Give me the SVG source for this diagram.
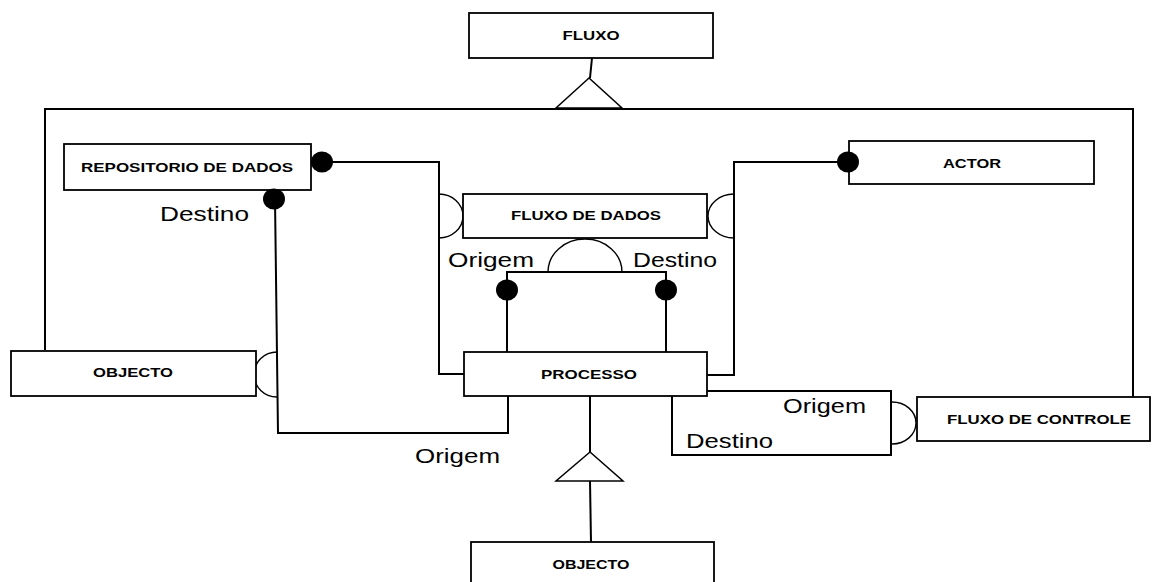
<svg xmlns="http://www.w3.org/2000/svg" width="1156" height="582" viewBox="0 0 1156 582">
  <style>
    .box { fill: #fff; stroke: #000; stroke-width: 1.8; }
    .lbl { font-family: "Liberation Sans", Arial, sans-serif; font-size: 13px; font-weight: bold; text-anchor: middle; fill: #000; }
    .role { font-family: "Liberation Sans", Arial, sans-serif; font-size: 21px; fill: #000; }
    .wire { fill: none; stroke: #000; stroke-width: 2; }
    .arc { fill: none; stroke: #000; stroke-width: 1.4; }
    .dot { fill: #000; }
    .tri { fill: #fff; stroke: #000; stroke-width: 1.5; }
  </style>

  <rect width="1156" height="582" fill="#fff"/>

  <!-- connectors -->
  <g id="connectors">
    <!-- FLUXO generalization -->
    <line class="wire" x1="592" y1="58" x2="590" y2="78"/>
    <polyline class="wire" points="45,350 45,109 1133,109 1133,397"/>
    <polygon class="tri" points="589,78 556,108 622,108"/>

    <!-- REPOSITORIO DE DADOS -> PROCESSO (via FLUXO DE DADOS) -->
    <polyline class="wire" points="322,162 439,162 439,374 464,374"/>
    <path class="arc" d="M439,194 A24,22 0 0 1 439,238"/>

    <!-- ACTOR -> PROCESSO (via FLUXO DE DADOS) -->
    <polyline class="wire" points="848,162 734,162 734,375 707,375"/>
    <path class="arc" d="M734,194 A26,22 0 0 0 734,238"/>

    <!-- REPOSITORIO DE DADOS -> PROCESSO (via OBJECTO) -->
    <polyline class="wire" points="275,199 278,433 508,433 508,396"/>
    <path class="arc" d="M277,352 A23,22.5 0 0 0 277,397"/>

    <!-- PROCESSO self-relation under FLUXO DE DADOS -->
    <polyline class="wire" points="507,352 507,272 666,272 666,352"/>
    <path class="arc" d="M548,272 A37,33 0 0 1 622,272"/>

    <!-- PROCESSO self-relation under FLUXO DE CONTROLE -->
    <polyline class="wire" points="707,391 891,391 891,455 672,455 672,396"/>
    <path class="arc" d="M892,402 A24,21 0 0 1 892,444"/>

    <!-- OBJECTO generalization of PROCESSO -->
    <line class="wire" x1="590" y1="396" x2="590" y2="452"/>
    <line class="wire" x1="590" y1="481" x2="591" y2="542"/>
    <polygon class="tri" points="590,452 556,481 623,481"/>

    <!-- role names -->
    <text class="role" x="160" y="221" textLength="89" lengthAdjust="spacingAndGlyphs">Destino</text>
    <text class="role" x="448" y="267" textLength="86" lengthAdjust="spacingAndGlyphs">Origem</text>
    <text class="role" x="633" y="267" textLength="84" lengthAdjust="spacingAndGlyphs">Destino</text>
    <text class="role" x="783" y="413" textLength="83" lengthAdjust="spacingAndGlyphs">Origem</text>
    <text class="role" x="686" y="448" textLength="87" lengthAdjust="spacingAndGlyphs">Destino</text>
    <text class="role" x="415" y="463" textLength="85" lengthAdjust="spacingAndGlyphs">Origem</text>
  </g>

  <g id="fluxo">
    <rect class="box" x="469" y="13" width="244" height="45"/>
    <text class="lbl" x="591" y="40" textLength="57" lengthAdjust="spacingAndGlyphs">FLUXO</text>
  </g>

  <g id="repositorio-de-dados">
    <rect class="box" x="64" y="144" width="247" height="46"/>
    <text class="lbl" x="187" y="172" textLength="212" lengthAdjust="spacingAndGlyphs">REPOSITORIO DE DADOS</text>
    <ellipse class="dot" cx="322" cy="162" rx="11" ry="10.5"/>
    <ellipse class="dot" cx="274" cy="199" rx="11" ry="10.5"/>
  </g>

  <g id="actor">
    <rect class="box" x="849" y="141" width="245" height="43"/>
    <text class="lbl" x="972" y="168" textLength="58" lengthAdjust="spacingAndGlyphs">ACTOR</text>
    <ellipse class="dot" cx="848" cy="162" rx="11" ry="10.5"/>
  </g>

  <g id="fluxo-de-dados">
    <rect class="box" x="463" y="194" width="244" height="44"/>
    <text class="lbl" x="586" y="220" textLength="150" lengthAdjust="spacingAndGlyphs">FLUXO DE DADOS</text>
  </g>

  <g id="objecto-1">
    <rect class="box" x="11" y="351" width="245" height="45"/>
    <text class="lbl" x="133" y="377" textLength="80" lengthAdjust="spacingAndGlyphs">OBJECTO</text>
  </g>

  <g id="processo">
    <rect class="box" x="464" y="352" width="243" height="44"/>
    <text class="lbl" x="589" y="379" textLength="96" lengthAdjust="spacingAndGlyphs">PROCESSO</text>
    <ellipse class="dot" cx="507" cy="290" rx="11" ry="10.5"/>
    <ellipse class="dot" cx="666" cy="290" rx="11" ry="10.5"/>
  </g>

  <g id="fluxo-de-controle">
    <rect class="box" x="917" y="397" width="233" height="44"/>
    <text class="lbl" x="1039" y="424" textLength="184" lengthAdjust="spacingAndGlyphs">FLUXO DE CONTROLE</text>
  </g>

  <g id="objecto-2">
    <rect class="box" x="471" y="542" width="243" height="46"/>
    <text class="lbl" x="591" y="569" textLength="77" lengthAdjust="spacingAndGlyphs">OBJECTO</text>
  </g>
</svg>
